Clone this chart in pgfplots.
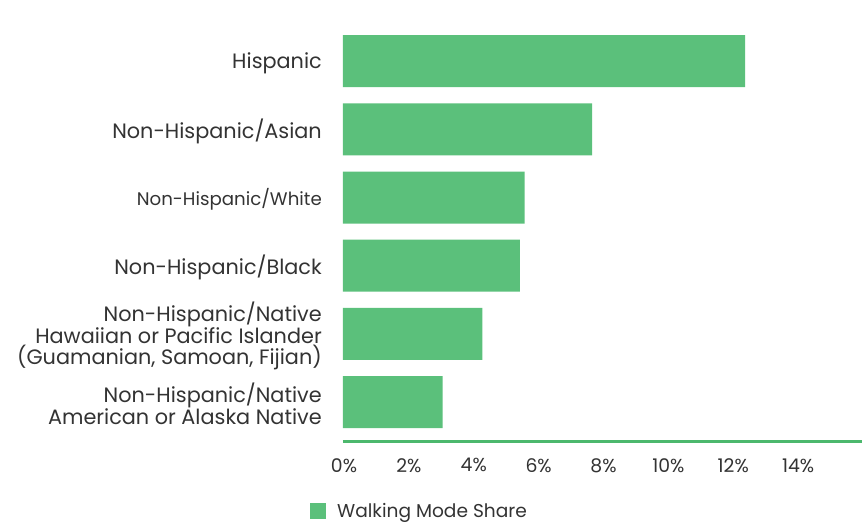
\documentclass[border=0pt]{standalone}
\usepackage{pgfplots}
\pgfplotsset{compat=1.18}
\usepackage{fontspec}
\setmainfont{Poppins}
\definecolor{barg}{RGB}{91,192,123}
\definecolor{lineg}{RGB}{76,184,109}
\definecolor{txt}{RGB}{51,51,51}
\begin{document}
\begin{tikzpicture}
\begin{axis}[
  at={(0,0)}, anchor=south west,
  scale only axis, width=519pt, height=414pt,
  xbar, bar width=52pt,
  xmin=0, xmax=16, ymin=-0.57, ymax=5.5,
  axis x line=bottom, axis y line=left,
  x axis line style={draw=lineg, line width=3pt, -},
  y axis line style={draw=none},
  major tick length=0pt,
  xtick={0,2,4,6,8,10,12,14},
  xticklabel={\pgfmathprintnumber{\tick}\%},
  /pgf/number format/assume math mode=true,
  xticklabel style={font=\fontsize{18.8}{20}\selectfont, text=txt, yshift=-14pt, xshift=1pt},
  ytick={0,1,2,3,4,5},
  yticklabels={
    {Non-Hispanic/Native\\American or Alaska Native},
    {Non-Hispanic/Native\\Hawaiian or Pacific Islander\\(Guamanian, Samoan, Fijian)},
    {Non-Hispanic/Black},
    {\fontsize{18.2}{20}\selectfont Non-Hispanic/White},
    {Non-Hispanic/Asian},
    {Hispanic}},
  yticklabel style={font=\fontsize{20.8}{20.5}\selectfont, text=txt, align=right, inner sep=0pt, xshift=-21pt, yshift=-2pt},
  legend style={at={(rel axis cs:0,0)}, anchor=west, xshift=-36pt, yshift=-70pt, draw=none, fill=none,
    font=\fontsize{18.6}{20}\selectfont, text=txt},
  legend image code/.code={\fill[barg] (0pt,-8pt) rectangle (16pt,8pt);},
]
\addplot[fill=barg, draw=none] coordinates {
  (3.07,0) (4.3,1) (5.45,2) (5.6,3) (7.68,4) (12.4,5)};
\addlegendentry{\hspace*{9pt}Walking Mode Share}
\end{axis}
\pgfresetboundingbox
\path[use as bounding box] (-343pt,-83pt) rectangle (524pt,441pt);
\end{tikzpicture}
\end{document}
